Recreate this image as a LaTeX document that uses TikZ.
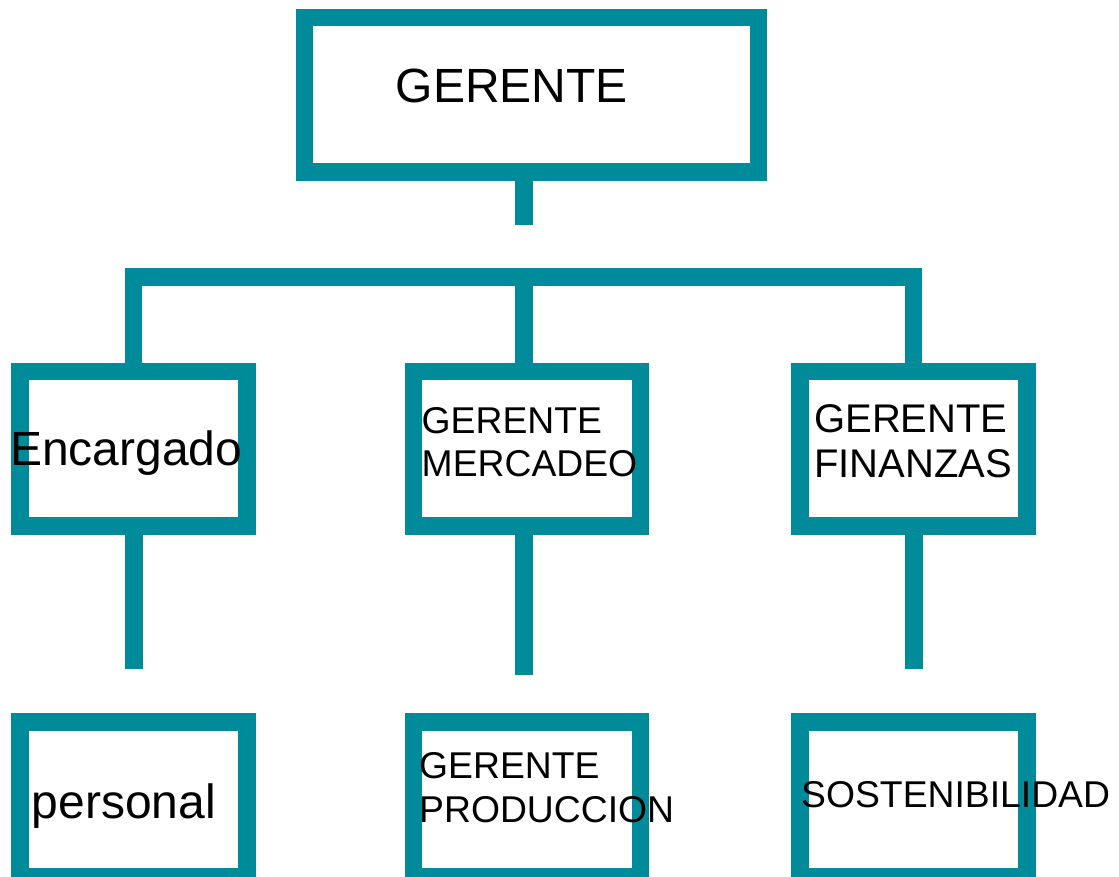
\documentclass[tikz,border=0pt]{standalone}
\usepackage{fontspec}
\setmainfont{Liberation Sans}
\definecolor{orgteal}{RGB}{0,139,155}
\begin{document}
\begin{tikzpicture}[x=1pt,y=-1pt,
    box/.style={draw=orgteal,line width=17.5pt,fill=white,
      minimum width=227pt,minimum height=154.5pt,inner sep=0pt},
    link/.style={draw=orgteal,line width=17.5pt,line join=miter},
    txt/.style={anchor=base west,inner sep=0pt,align=left},
    big/.style={font=\fontsize{48}{57}\selectfont},
    small/.style={font=\fontsize{37.3}{43.4}\selectfont}]
  \fill[white] (0,0) rectangle (1119,877);
  \useasboundingbox (0,0) rectangle (1119,877);
  % boxes
  \node[box,minimum width=454pt] (ger) at (531.5,95) {};
  \node[box] (enc) at (133.7,448.5) {};
  \node[box] (mer) at (527,448.5) {};
  \node[box] (fin) at (913.7,448.5) {};
  \node[box] (per) at (133.7,799) {};
  \node[box] (pro) at (527,799) {};
  \node[box] (sos) at (913.7,799) {};
  % connectors
  \coordinate (stub) at (524,225.3);
  \coordinate (bar) at (524,277);
  \coordinate (encend) at (134,669.3);
  \coordinate (merend) at (524,675);
  \coordinate (finend) at (914,669.3);
  \draw[link] (ger.south -| stub) -- (stub);
  \draw[link] (enc.north) |- (bar) -| (fin.north);
  \draw[link] (bar) -- (bar |- mer.north);
  \draw[link] (enc.south -| encend) -- (encend);
  \draw[link] (mer.south -| merend) -- (merend);
  \draw[link] (fin.south -| finend) -- (finend);
  % texts (base = last line)
  \node[txt,big] (gertext) at (395.5,102.7) {GERENTE};
  \node[txt,big] (enctext) at (10,465) {Encargado};
  \node[txt,small] (mertext) at (421.5,476.7) {GERENTE\\MERCADEO};
  \node[txt,font=\fontsize{40}{45.4}\selectfont] (fintext) at (814,477.7) {GERENTE\\FINANZAS};
  \node[txt,big] (pertext) at (31.5,818.3) {personal};
  \node[txt,small] (protext) at (419,822.3) {GERENTE\\PRODUCCION};
  \node[txt,small] (sostext) at (801,807.3) {SOSTENIBILIDAD};
\end{tikzpicture}
\end{document}
